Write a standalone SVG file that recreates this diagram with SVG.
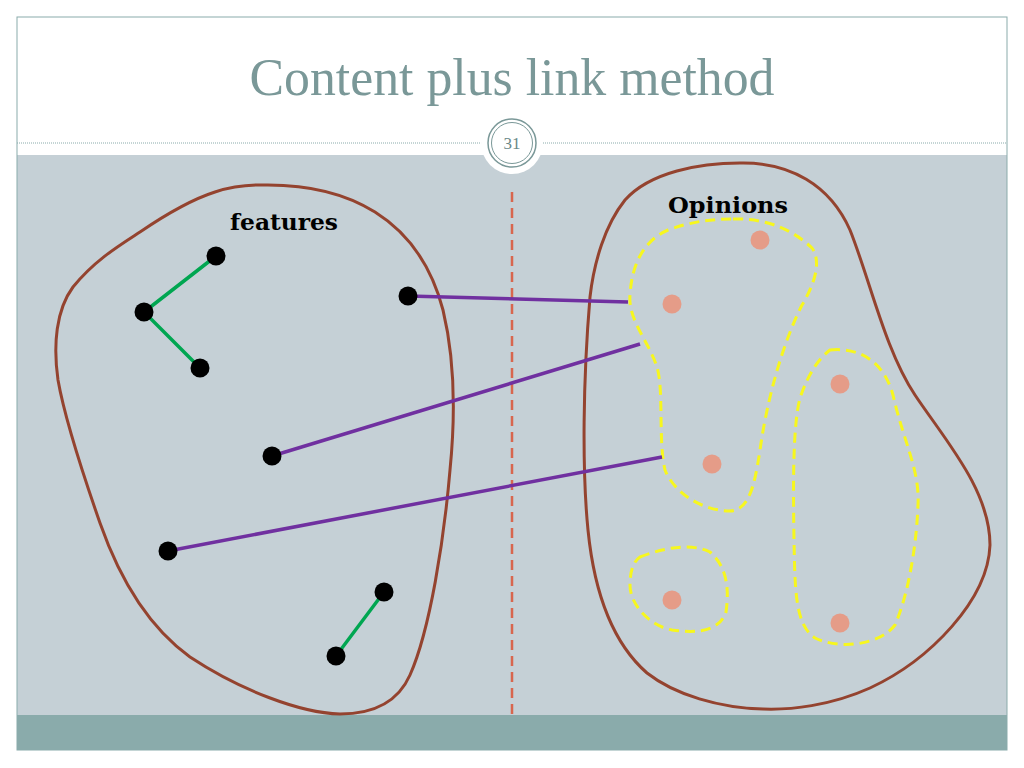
<svg xmlns="http://www.w3.org/2000/svg" width="1024" height="768" viewBox="0 0 1024 768">
<style>
.blob{fill:none;stroke:#94432f;stroke-width:3}
.cluster{fill:none;stroke:#f7f71e;stroke-width:3;stroke-dasharray:10 6}
.feat{fill:#000}
.op{fill:#e59c88}
.intra{stroke:#00a651;stroke-width:3.5;fill:none}
.link{stroke:#7030a0;stroke-width:3.5;fill:none}
.lbl{font-family:"DejaVu Serif","Liberation Serif",serif;font-weight:bold;font-size:23px;fill:#000}
</style>
<rect x="0" y="0" width="1024" height="768" fill="#fff"/>
<g id="frame">
<rect x="17" y="155" width="990" height="560" fill="#c5d0d6"/>
<rect x="17" y="715" width="990" height="35" fill="#8aabab"/>
<rect x="17" y="17" width="990" height="733" fill="none" stroke="#8aabab" stroke-width="1"/>
<line x1="17" y1="143" x2="1007" y2="143" stroke="#8aabab" stroke-width="1" stroke-dasharray="1 1"/>
</g>
<g id="title">
<text x="512" y="95" text-anchor="middle" font-family="Liberation Serif, serif" font-size="52" fill="#7a9898" textLength="525" lengthAdjust="spacingAndGlyphs">Content plus link method</text>
</g>
<g id="pagenum">
<circle cx="512" cy="143" r="31" fill="#fff"/>
<circle cx="512" cy="143" r="24" fill="#fff" stroke="#7a9898" stroke-width="1.5"/>
<circle cx="512" cy="143" r="20.5" fill="none" stroke="#7a9898" stroke-width="1"/>
<text x="512" y="149" text-anchor="middle" font-family="Liberation Serif, serif" font-size="17" fill="#6a8888">31</text>
</g>
<g id="divider">
<line x1="512" y1="192" x2="512" y2="718" stroke="#d8664e" stroke-width="2.5" stroke-dasharray="10 6"/>
</g>
<g id="features-set">
<path class="blob" d="M260,185 C300,184 340,190 375,212 C410,234 432,268 443,310 C455,360 455,420 450,470 C444,540 430,630 410,675 C398,702 375,714 340,714 C300,713 240,690 190,657 C150,628 120,580 100,523 C85,480 65,420 58,380 C53,345 56,310 73,287 C95,260 120,245 140,232 C165,215 190,200 215,192 C230,187 245,185 260,185 Z"/>
<text class="lbl" x="284" y="230" text-anchor="middle" textLength="108" lengthAdjust="spacingAndGlyphs">features</text>
</g>
<g id="opinions-set">
<path class="blob" d="M740,163 C790,162 830,185 850,230 C870,280 885,350 915,395 C945,440 990,490 990,545 C988,600 930,660 870,688 C830,706 790,710 763,709 C720,708 675,695 647,673 C615,645 595,600 588,530 C582,470 583,380 590,297 C594,262 605,225 625,200 C650,172 700,163 740,163 Z"/>
<text class="lbl" x="728" y="213" text-anchor="middle" textLength="120" lengthAdjust="spacingAndGlyphs">Opinions</text>
</g>
<g id="cluster-1">
<path class="cluster" d="M733,219 C770,218 795,232 812,248 C822,262 814,285 802,305 C782,345 767,400 760,450 C754,490 748,510 730,511 C705,511 675,495 665,470 C658,440 664,390 657,367 C648,340 628,320 630,295 C632,262 645,240 668,230 C690,222 710,219 733,219 Z"/>
</g>
<g id="cluster-2">
<path class="cluster" d="M830,350 C860,347 884,362 893,395 C903,440 920,470 918,505 C916,555 906,600 895,625 C880,645 840,650 815,638 C795,625 795,590 794,540 C793,480 793,425 800,398 C808,375 817,360 830,350 Z"/>
</g>
<g id="cluster-3">
<path class="cluster" d="M640,557 C660,549 690,542 710,552 C725,565 730,585 726,612 C720,630 700,634 672,630 C650,626 630,605 630,585 C630,570 634,561 640,557 Z"/>
</g>
<g id="connectors">
<polyline class="intra" points="216,256 144,312 200,368"/>
<line class="intra" x1="384" y1="592" x2="336" y2="656"/>
<line class="link" x1="408" y1="296" x2="628" y2="302"/>
<line class="link" x1="272" y1="456" x2="640" y2="344"/>
<line class="link" x1="168" y1="551" x2="662" y2="457"/>
</g>
<g id="feature-nodes">
<circle id="f1" class="feat" cx="216" cy="256" r="9.5"/>
<circle id="f2" class="feat" cx="144" cy="312" r="9.5"/>
<circle id="f3" class="feat" cx="200" cy="368" r="9.5"/>
<circle id="f4" class="feat" cx="408" cy="296" r="9.5"/>
<circle id="f5" class="feat" cx="272" cy="456" r="9.5"/>
<circle id="f6" class="feat" cx="168" cy="551" r="9.5"/>
<circle id="f7" class="feat" cx="384" cy="592" r="9.5"/>
<circle id="f8" class="feat" cx="336" cy="656" r="9.5"/>
</g>
<g id="opinion-nodes">
<circle id="o1" class="op" cx="760" cy="240" r="9.5"/>
<circle id="o2" class="op" cx="672" cy="304" r="9.5"/>
<circle id="o3" class="op" cx="712" cy="464" r="9.5"/>
<circle id="o4" class="op" cx="840" cy="384" r="9.5"/>
<circle id="o5" class="op" cx="672" cy="600" r="9.5"/>
<circle id="o6" class="op" cx="840" cy="623" r="9.5"/>
</g>
</svg>
